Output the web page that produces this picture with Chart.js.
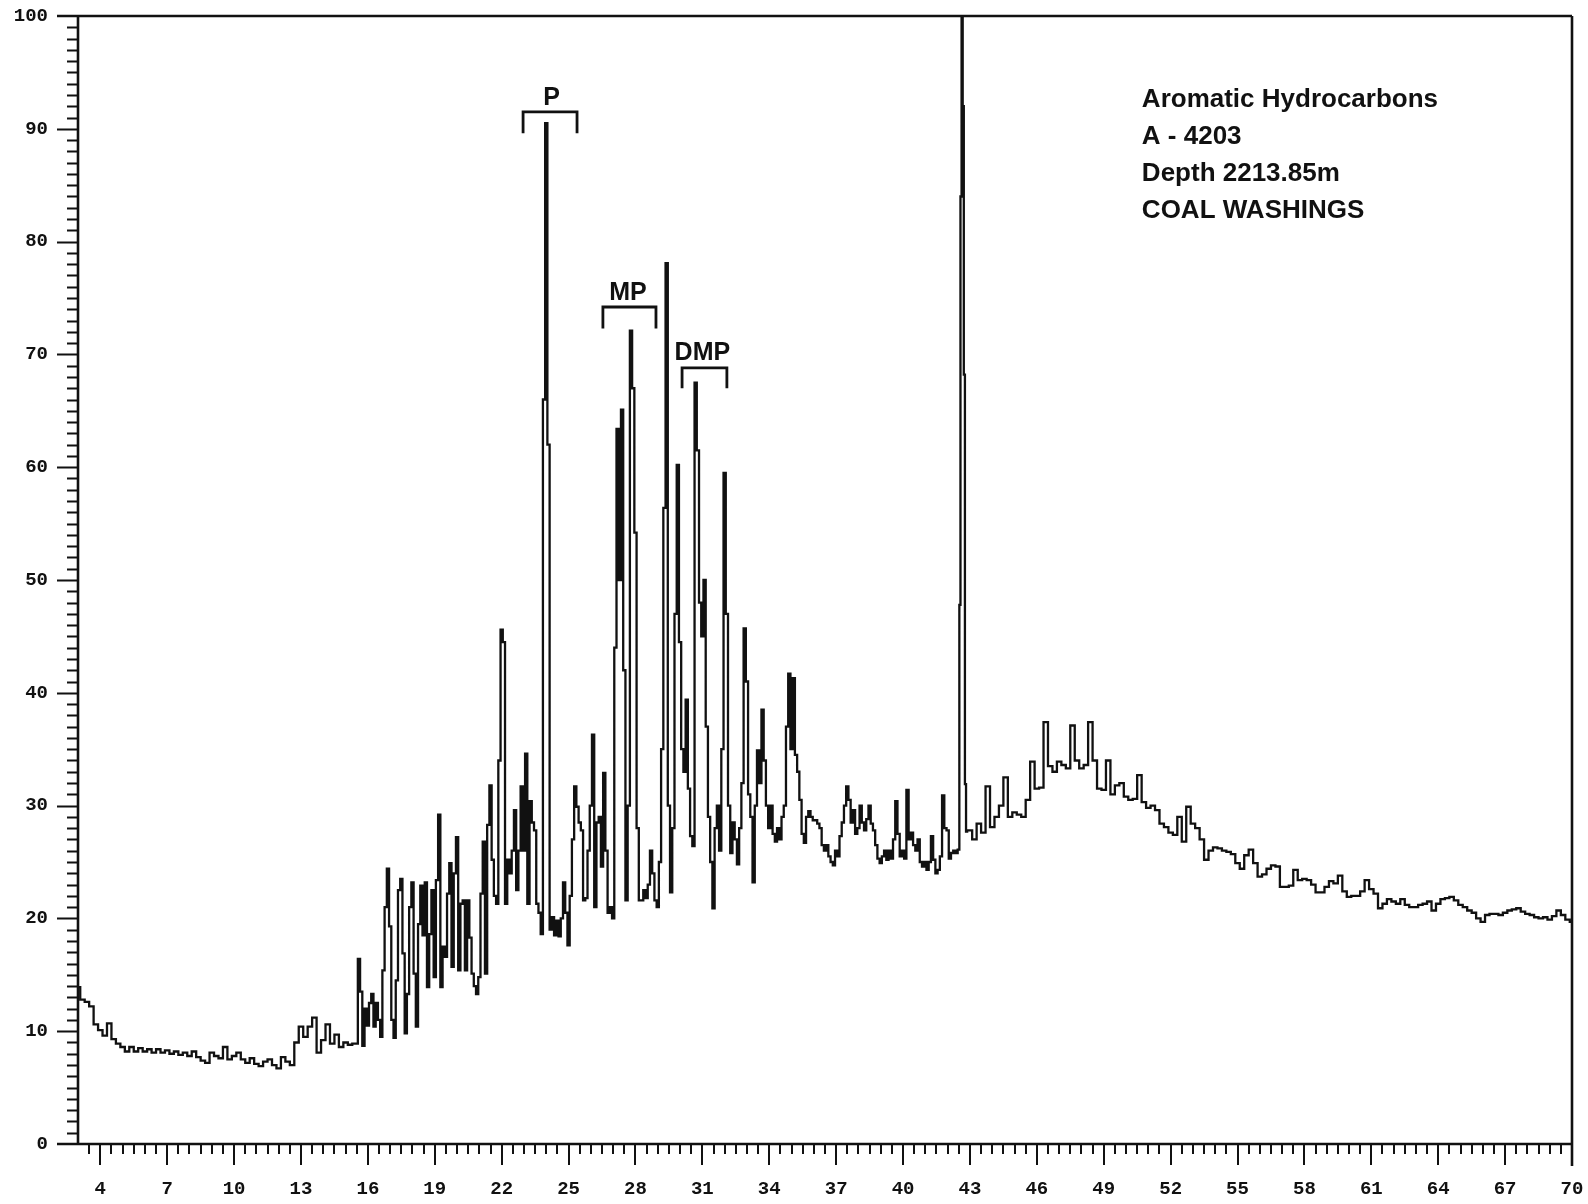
<!DOCTYPE html>
<html>
<head>
<meta charset="utf-8">
<script src="https://cdn.jsdelivr.net/npm/chart.js@4/dist/chart.umd.min.js"></script>
<style>
  html, body { margin: 0; padding: 0; background: #fff; }
  canvas { display: block; }
</style>
</head>
<body>
<canvas id="trace" width="1588" height="1204"></canvas>
<script>
// Aromatic hydrocarbon fraction, A-4203, depth 2213.85 m, coal washings.
// Detector response against retention time. Each block of readings begins at
// its *Start time and advances by its *Step per reading.

const baselineStart = 3.0, baselineStep = 0.2;
const baseline = [
  13.9, 12.8, 12.6, 12.2, 10.6,
  10.1, 9.6, 10.7, 9.3, 8.9,
  8.6, 8.2, 8.6, 8.2, 8.5,
  8.2, 8.4, 8.1, 8.4, 8.1,
  8.3, 8.0, 8.2, 7.9, 8.1,
  7.8, 8.2, 7.7, 7.4, 7.2,
  8.1, 7.8, 7.6, 8.6, 7.5,
  7.8, 8.1, 7.5, 7.2, 7.6,
  7.1, 6.9, 7.3, 7.5, 7.0,
  6.7, 7.7, 7.3, 7.0, 9.0,
  10.4, 9.5, 10.4, 11.2, 8.1,
  9.2, 10.6, 8.9, 9.7, 8.6,
  9.0, 8.8, 8.9
];

const aromaticStart = 15.5, aromaticStep = 0.1;
const aromatic = [
  8.9, 16.4, 13.5, 8.7, 12.0,
  10.5, 12.5, 13.3, 10.4, 12.5, 11.0, 9.5, 15.4, 21.0, 24.4,
  19.3, 11.0, 9.4, 14.5, 22.5, 23.5, 16.9, 9.8, 13.3, 21.0,
  23.2, 15.1, 10.4, 19.5, 22.9, 18.5, 23.2, 13.9, 18.6, 22.5,
  14.8, 23.4, 29.2, 13.9, 17.5, 16.6, 22.2, 24.9, 15.7, 24.0,
  27.2, 15.4, 21.3, 21.6, 15.4, 21.6, 18.3, 15.1, 14.0, 13.3,
  14.8, 22.2, 26.8, 15.1, 28.3, 31.8, 25.2, 22.0, 21.3, 34.0,
  45.6, 44.5, 21.3, 25.2, 24.0, 26.0, 29.6, 22.5, 26.0, 31.7,
  26.0, 34.6, 21.3, 30.4, 28.5, 27.8, 21.3, 20.5, 18.6, 66.0,
  90.5, 62.0, 19.0, 20.1, 18.5, 19.8, 18.4, 20.0, 23.2, 20.5,
  17.6, 22.0, 27.0, 31.7, 29.9, 28.5, 27.8, 21.6, 21.8, 26.0,
  30.0, 36.3, 21.0, 28.5, 29.0, 24.6, 32.9, 26.0, 20.5, 21.0,
  20.0, 44.0, 63.4, 50.0, 65.1, 42.0, 21.6, 30.0, 72.1, 67.0,
  54.2, 28.0, 21.6, 21.6, 22.5, 21.8, 23.0, 26.0, 24.0, 21.6,
  21.0, 25.0, 35.0, 56.4, 78.1, 30.0, 22.3, 28.0, 47.0, 60.2,
  44.5, 35.0, 33.0, 39.4, 31.5, 27.3, 26.4, 67.5, 61.5, 48.0,
  45.0, 50.0, 37.0, 29.0, 25.0, 20.9, 28.0, 30.0, 26.0, 35.0,
  59.5, 47.0, 30.0, 25.8, 28.5, 27.0, 24.8, 28.0, 32.0, 45.7,
  41.0, 31.0, 29.0, 23.2, 30.0, 34.9, 32.0, 38.5, 34.0, 30.0,
  28.0, 30.0, 27.5, 26.8, 28.0, 27.0, 29.0, 30.0, 37.0, 41.7,
  35.0, 41.3, 34.5, 33.0, 30.5, 27.5, 26.7, 29.0, 29.5, 29.0,
  28.7
];

const plateauStart = 36.1, plateauStep = 0.1;
const plateau = [
  28.7, 28.4, 28.0, 26.5, 26.0, 26.5, 25.5, 25.0, 24.7,
  26.0, 25.5, 27.3, 28.5, 30.0, 31.7, 30.5, 28.5, 29.6, 27.5,
  28.0, 30.0, 28.5, 27.8, 28.8, 30.0, 28.4, 27.8, 26.5, 25.3,
  24.9, 25.5, 26.0, 25.2, 26.0, 25.3, 27.0, 30.4, 27.5, 25.5,
  26.0, 25.3, 31.4, 27.0, 27.6, 26.5, 26.0, 27.0, 25.0, 24.6,
  25.0, 24.3, 25.0, 27.3, 25.2, 24.0, 24.3, 25.5, 30.9, 28.0,
  27.8, 25.3, 25.8, 26.0, 25.8
];

// the off-scale component near 42.6 min
const spikeStart = 42.5, spikeStep = 0.05;
const spike = [26.1, 47.8, 84.0, 104.0, 92.0, 68.2, 31.9, 27.7, 27.8];

const tailStart = 43.0, tailStep = 0.2;
const tail = [
  27.8, 27.0, 28.4, 27.6, 31.7,
  28.1, 29.0, 30.0, 32.5, 29.0,
  29.4, 29.2, 29.0, 30.5, 33.9,
  31.5, 31.6, 37.4, 33.5, 33.0,
  33.9, 33.6, 33.3, 37.1, 34.0,
  33.3, 33.6, 37.4, 34.0, 31.5,
  31.4, 34.0, 31.0, 31.8, 32.0,
  30.8, 30.5, 30.6, 32.7, 30.3,
  29.8, 30.0, 29.6, 28.4, 28.1,
  27.6, 27.4, 29.0, 26.8, 29.9,
  28.4, 28.0, 27.0, 25.2, 26.0,
  26.3, 26.2, 26.0, 25.9, 25.7,
  24.9, 24.4, 25.6, 26.1, 24.9,
  23.7, 23.9, 24.4, 24.7, 24.6,
  22.8, 22.8, 22.9, 24.3, 23.4,
  23.5, 23.4, 23.0, 22.3, 22.3,
  22.8, 23.3, 23.1, 23.8, 22.4,
  21.9, 22.0, 22.0, 22.4, 23.4,
  22.6, 22.2, 20.9, 21.3, 21.7,
  21.5, 21.3, 21.7, 21.2, 21.0,
  21.0, 21.2, 21.3, 21.5, 20.7,
  21.3, 21.7, 21.8, 21.9, 21.6,
  21.2, 21.0, 20.7, 20.5, 20.0,
  19.7, 20.3, 20.4, 20.4, 20.3,
  20.5, 20.7, 20.8, 20.9, 20.6,
  20.4, 20.3, 20.1, 20.0, 20.1,
  19.9, 20.2, 20.7, 20.3, 19.9,
  19.7
];

const retentionTicks = [4, 7, 10, 13, 16, 19, 22, 25, 28, 31, 34, 37, 40, 43, 46, 49, 52, 55, 58, 61, 64, 67, 70];
const responseTicks = [0, 10, 20, 30, 40, 50, 60, 70, 80, 90, 100];

const peakNames = ['P', 'MP', 'DMP'];
const sampleLines = ['Aromatic Hydrocarbons', 'A - 4203', 'Depth 2213.85m', 'COAL WASHINGS'];

const INK = '#111';

function block(start, step, values) {
  return values.map((y, i) => ({ x: +(start + i * step).toFixed(3), y }));
}

const trace = [].concat(
  block(baselineStart, baselineStep, baseline),
  block(aromaticStart, aromaticStep, aromatic),
  block(plateauStart, plateauStep, plateau),
  block(spikeStart, spikeStep, spike),
  block(tailStart, tailStep, tail)
);

// bracket spans (retention time) and heights (response) for the labelled groups
const groupMarks = {
  P:   { from: 22.96, to: 25.38, bar: 91.5, foot: 89.6, at: 24.24, text: 92.1 },
  MP:  { from: 26.54, to: 28.92, bar: 74.2, foot: 72.3, at: 27.66, text: 74.8 },
  DMP: { from: 30.09, to: 32.10, bar: 68.8, foot: 67.0, at: 31.00, text: 69.5 }
};

const frame = {
  id: 'frame',
  afterDatasetsDraw(chart) {
    const { ctx, chartArea: a, scales: { x, y } } = chart;
    ctx.save();
    ctx.strokeStyle = INK;
    ctx.lineCap = 'butt';

    // box: left and bottom axes, top and right edges
    ctx.lineWidth = 2.6;
    ctx.beginPath();
    ctx.moveTo(a.left, a.top); ctx.lineTo(a.left, a.bottom);
    ctx.moveTo(a.left - 21, a.bottom); ctx.lineTo(a.right, a.bottom);
    ctx.moveTo(a.left - 21, a.top); ctx.lineTo(a.right, a.top);
    ctx.moveTo(a.right, a.top); ctx.lineTo(a.right, a.bottom + 22);
    ctx.stroke();

    // tick marks
    ctx.lineWidth = 2;
    ctx.beginPath();
    for (let v = 1; v < 100; v++) {
      const py = Math.round(y.getPixelForValue(v)) + 0.5;
      const len = v % 10 === 0 ? 21 : 11;
      ctx.moveTo(a.left - len, py); ctx.lineTo(a.left, py);
    }
    for (let v = 3.5; v < 70; v += 0.5) {
      const px = Math.round(x.getPixelForValue(v));
      const len = (v - 4) % 3 === 0 ? 21 : 10;
      ctx.moveTo(px, a.bottom); ctx.lineTo(px, a.bottom + len);
    }
    ctx.stroke();

    // peak group brackets and names
    ctx.lineWidth = 2.8;
    ctx.fillStyle = INK;
    ctx.textAlign = 'center';
    ctx.textBaseline = 'alphabetic';
    ctx.font = 'bold 25px "Liberation Sans", Arial, sans-serif';
    peakNames.forEach(name => {
      const g = groupMarks[name];
      const x0 = x.getPixelForValue(g.from), x1 = x.getPixelForValue(g.to);
      const yb = y.getPixelForValue(g.bar), yf = y.getPixelForValue(g.foot);
      ctx.beginPath();
      ctx.moveTo(x0, yf); ctx.lineTo(x0, yb); ctx.lineTo(x1, yb); ctx.lineTo(x1, yf);
      ctx.stroke();
      ctx.fillText(name, x.getPixelForValue(g.at), y.getPixelForValue(g.text));
    });

    // sample description
    ctx.textAlign = 'left';
    ctx.font = 'bold 26px "Liberation Sans", Arial, sans-serif';
    const tx = x.getPixelForValue(50.71);
    sampleLines.forEach((line, i) => {
      ctx.fillText(line, tx, y.getPixelForValue(91.95 - i * 3.3));
    });
    ctx.restore();
  }
};

const tickFont = { family: '"Liberation Mono", "Courier New", monospace', size: 19, weight: 'bold' };

// the box is fixed by the layout padding alone; labels may overhang it
function noOverhang(s) {
  s.paddingTop = 0; s.paddingBottom = 0; s.paddingLeft = 0; s.paddingRight = 0;
}

new Chart(document.getElementById('trace'), {
  type: 'line',
  data: {
    datasets: [{
      data: trace,
      borderColor: INK,
      borderWidth: 2.3,
      pointRadius: 0,
      stepped: 'middle',
      fill: false
    }]
  },
  options: {
    responsive: false,
    animation: false,
    events: [],
    layout: { autoPadding: false, padding: { top: 16, right: 16, bottom: 0, left: 0 } },
    plugins: { legend: { display: false }, tooltip: { enabled: false } },
    scales: {
      x: {
        type: 'linear',
        min: 3,
        max: 70,
        afterBuildTicks: s => { s.ticks = retentionTicks.map(value => ({ value })); },
        afterFit: s => { s.height = 60; noOverhang(s); },
        grid: { display: false, drawTicks: false },
        border: { display: false },
        ticks: {
          autoSkip: false, maxRotation: 0, padding: 34,
          color: INK, font: tickFont,
          callback: v => String(v)
        }
      },
      y: {
        type: 'linear',
        min: 0,
        max: 100,
        afterBuildTicks: s => { s.ticks = responseTicks.map(value => ({ value })); },
        afterFit: s => { s.width = 78; noOverhang(s); },
        grid: { display: false, drawTicks: false },
        border: { display: false },
        ticks: {
          padding: 30, color: INK, font: tickFont,
          callback: v => String(v)
        }
      }
    }
  },
  plugins: [frame]
});
</script>
</body>
</html>
